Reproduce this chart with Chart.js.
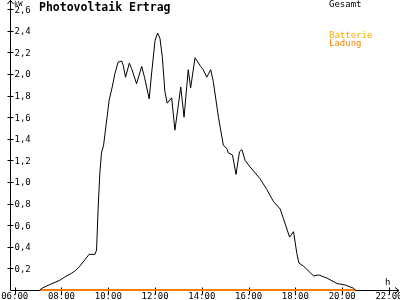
<!DOCTYPE html>
<html>
<head>
<meta charset="utf-8">
<script src="https://cdn.jsdelivr.net/npm/chart.js@4/dist/chart.umd.min.js"></script>
<style>
	html, body { margin: 0; padding: 0; background: #fff; }
	#chart-container { width: 400px; height: 300px; }
</style>
</head>
<body>
<div id="chart-container"><canvas id="pv" width="400" height="300"></canvas></div>
<script>
// Gesamt (kW) over time of day (decimal hours)
var hours = [7.07, 7.2, 7.5, 7.93, 8.14, 8.43, 8.6, 8.78, 9.0, 9.18, 9.43, 9.5, 9.57, 9.64, 9.71, 9.8,
	10.04, 10.17, 10.28, 10.42, 10.57, 10.64, 10.74, 10.9, 11.0, 11.21, 11.43, 11.55, 11.75, 11.85,
	12.0, 12.11, 12.21, 12.31, 12.42, 12.52, 12.71, 12.85, 13.1, 13.24, 13.42, 13.52, 13.71, 13.95,
	14.06, 14.21, 14.38, 14.49, 14.71, 14.92, 15.07, 15.13, 15.31, 15.46, 15.61, 15.71, 15.85, 16.06,
	16.49, 16.78, 17.06, 17.35, 17.49, 17.75, 17.92, 18.06, 18.15, 18.35, 18.78, 18.99, 19.35, 19.78,
	20.13, 20.49, 20.56];
var gesamt = [0, 0.02, 0.05, 0.09, 0.12, 0.155, 0.18, 0.22, 0.28, 0.33, 0.33, 0.37, 0.77, 1.08, 1.27, 1.34,
	1.76, 1.88, 2.0, 2.11, 2.12, 2.08, 1.97, 2.1, 2.05, 1.91, 2.07, 1.97, 1.77, 2.0,
	2.31, 2.38, 2.33, 2.16, 1.84, 1.73, 1.78, 1.48, 1.88, 1.6, 2.04, 1.87, 2.15, 2.07,
	2.04, 1.97, 2.04, 1.93, 1.6, 1.34, 1.31, 1.27, 1.25, 1.07, 1.28, 1.3, 1.2, 1.14,
	1.03, 0.93, 0.82, 0.75, 0.66, 0.49, 0.54, 0.34, 0.25, 0.22, 0.13, 0.14, 0.11, 0.06,
	0.046, 0.016, 0];

// Ladung (battery charging) stays at zero
var ladungHours = [7.07, 20.56];
var ladung = [0, 0];

var xTicks = [6, 8, 10, 12, 14, 16, 18, 20, 22];
var yTicks = [0.2, 0.4, 0.6, 0.8, 1.0, 1.2, 1.4, 1.6, 1.8, 2.0, 2.2, 2.4, 2.6];
var legendNames = ['Gesamt', 'Batterie', 'Ladung'];
var legendColors = ['#000000', '#ffaa00', '#ff8000'];

function toPoints(xs, ys) {
	return xs.map(function (x, i) { return {x: x, y: ys[i]}; });
}

function hhmm(h) {
	return (h < 10 ? '0' : '') + h + ':00';
}

var tickFont = '9px "DejaVu Sans Mono"';

/* axes, ticks, arrows and texts drawn with the chart's own scales */
var axesPlugin = {
	id: 'axes',
	beforeDatasetsDraw: function (chart) {
		var ctx = chart.ctx, a = chart.chartArea;
		var xs = chart.scales.x, ys = chart.scales.y;
		var x0 = Math.round(a.left) + 0.5, y0 = Math.round(a.bottom) + 0.5;
		ctx.save();
		ctx.strokeStyle = '#000';
		ctx.lineWidth = 1;
		ctx.beginPath();
		// y axis with arrow
		ctx.moveTo(x0, y0); ctx.lineTo(x0, 0);
		ctx.moveTo(x0 - 3, 4); ctx.lineTo(x0, 0.5); ctx.lineTo(x0 + 3, 4);
		// x axis with arrow
		ctx.moveTo(x0, y0); ctx.lineTo(399, y0);
		ctx.moveTo(395, y0 - 3); ctx.lineTo(399, y0); ctx.lineTo(395, y0 + 3);
		ctx.stroke();

		ctx.font = tickFont;
		ctx.fillStyle = '#000';
		ctx.beginPath();
		yTicks.forEach(function (v) {
			var py = Math.round(ys.getPixelForValue(v)) + 0.5;
			ctx.moveTo(x0 - 3, py); ctx.lineTo(x0 + 3, py);
		});
		xTicks.forEach(function (h) {
			var px = Math.round(xs.getPixelForValue(h)) + 0.5;
			ctx.moveTo(px, y0 - 3); ctx.lineTo(px, y0 + 4);
		});
		ctx.stroke();

		ctx.textAlign = 'left';
		ctx.textBaseline = 'middle';
		yTicks.forEach(function (v) {
			var py = ys.getPixelForValue(v);
			ctx.fillText(v.toFixed(1).replace('.', ','), x0 + 4, py + 1);
		});
		ctx.textAlign = 'center';
		ctx.textBaseline = 'alphabetic';
		xTicks.forEach(function (h) {
			ctx.fillText(hhmm(h), xs.getPixelForValue(h), 299);
		});
		ctx.restore();
	},
	afterDraw: function (chart) {
		var ctx = chart.ctx;
		ctx.save();
		ctx.fillStyle = '#000';
		ctx.textAlign = 'left';
		ctx.textBaseline = 'alphabetic';
		ctx.font = '7px "DejaVu Sans Mono"';
		ctx.fillText('kW', 14, 6);
		ctx.font = '9px "DejaVu Sans Mono"';
		ctx.fillText('h', 385, 285);
		ctx.font = 'bold 11.5px "DejaVu Sans Mono"';
		ctx.fillText('Photovoltaik Ertrag', 39, 11);
		ctx.font = tickFont;
		var ly = [7, 38, 46];
		legendNames.forEach(function (n, i) {
			ctx.fillStyle = legendColors[i];
			ctx.fillText(n, 329, ly[i]);
		});
		ctx.restore();
	}
};

new Chart(document.getElementById('pv'), {
	type: 'line',
	data: {
		datasets: [{
			label: 'Gesamt',
			data: toPoints(hours, gesamt),
			borderColor: legendColors[0],
			borderWidth: 1,
			pointRadius: 0,
			tension: 0
		}, {
			label: 'Ladung',
			data: toPoints(ladungHours, ladung),
			borderColor: legendColors[2],
			borderWidth: 2,
			pointRadius: 0,
			tension: 0,
			clip: false
		}]
	},
	options: {
		responsive: false,
		animation: false,
		devicePixelRatio: 1,
		layout: {padding: {left: 10, right: 4, top: 1, bottom: 10}},
		plugins: {legend: {display: false}, tooltip: {enabled: false}},
		scales: {
			x: {type: 'linear', min: 5.8, max: 22.3, display: false},
			y: {type: 'linear', min: 0, max: 2.676, display: false}
		}
	},
	plugins: [axesPlugin]
});
</script>
</body>
</html>
